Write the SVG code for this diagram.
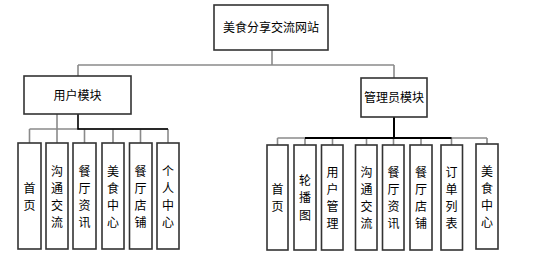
<svg xmlns="http://www.w3.org/2000/svg" width="533" height="258" viewBox="0 0 533 258">
<style>
.box{fill:#fff;stroke:#333;stroke-width:1.6}
.t{font-family:"Noto Sans CJK SC","Liberation Sans",sans-serif;font-size:12px;fill:#000;text-anchor:middle}
.g{stroke:#8a8a8a;stroke-width:1.6;fill:none}
.k{stroke:#000;stroke-width:1.6;fill:none}
</style>
<rect width="533" height="258" fill="#fff"/>
<g id="connectors">
<path class="g" d="M272 50V65M78 65H394M78 65V76M394 65V78"/>
<path class="g" d="M57 114V129M29.5 129H168M29.5 129V143M57 129V143M84.5 129V143M113 129V143M140.5 129V143M168 129V143"/>
<path class="k" d="M78 114V129H168"/>
<path class="g" d="M277.5 138H487M277.5 138V145M305 138V145M332.5 138V145M366.5 138V145M393.5 138V145M421 138V145M451.5 138V145M487 138V144"/>
<path class="k" d="M394 117V138M305 138H451.5" style="stroke-width:2"/>
</g>
<g id="root"><rect class="box" x="214" y="5" width="114" height="45"/><text class="t" x="271" y="32">美食分享交流网站</text></g>
<g id="user"><rect class="box" x="24" y="76" width="107" height="38"/><text class="t" x="77.5" y="99.5">用户模块</text></g>
<g id="admin"><rect class="box" x="361" y="78" width="66" height="39"/><text class="t" x="394" y="102">管理员模块</text></g>

<g id="u1"><rect class="box" x="18" y="143" width="23" height="106"/><text class="t" x="29.5" y="192.5"><tspan x="29.5">首</tspan><tspan x="29.5" dy="17">页</tspan></text></g>
<g id="u2"><rect class="box" x="46" y="143" width="22" height="106"/><text class="t" x="57" y="175.5"><tspan x="57">沟</tspan><tspan x="57" dy="17">通</tspan><tspan x="57" dy="17">交</tspan><tspan x="57" dy="17">流</tspan></text></g>
<g id="u3"><rect class="box" x="73" y="143" width="23" height="106"/><text class="t" x="84.5" y="175.5"><tspan x="84.5">餐</tspan><tspan x="84.5" dy="17">厅</tspan><tspan x="84.5" dy="17">资</tspan><tspan x="84.5" dy="17">讯</tspan></text></g>
<g id="u4"><rect class="box" x="102" y="143" width="22" height="106"/><text class="t" x="113" y="175.5"><tspan x="113">美</tspan><tspan x="113" dy="17">食</tspan><tspan x="113" dy="17">中</tspan><tspan x="113" dy="17">心</tspan></text></g>
<g id="u5"><rect class="box" x="129.5" y="143" width="22.5" height="106"/><text class="t" x="140.5" y="175.5"><tspan x="140.5">餐</tspan><tspan x="140.5" dy="17">厅</tspan><tspan x="140.5" dy="17">店</tspan><tspan x="140.5" dy="17">铺</tspan></text></g>
<g id="u6"><rect class="box" x="157" y="143" width="22" height="106"/><text class="t" x="168" y="175.5"><tspan x="168">个</tspan><tspan x="168" dy="17">人</tspan><tspan x="168" dy="17">中</tspan><tspan x="168" dy="17">心</tspan></text></g>

<g id="a1"><rect class="box" x="267" y="145" width="21" height="105"/><text class="t" x="277.5" y="193.5"><tspan x="277.5">首</tspan><tspan x="277.5" dy="17">页</tspan></text></g>
<g id="a2"><rect class="box" x="294" y="145" width="22" height="105"/><text class="t" x="305" y="184.5"><tspan x="305">轮</tspan><tspan x="305" dy="17.5">播</tspan><tspan x="305" dy="17.5">图</tspan></text></g>
<g id="a3"><rect class="box" x="321.5" y="145" width="21.5" height="105"/><text class="t" x="332.5" y="176.5"><tspan x="332.5">用</tspan><tspan x="332.5" dy="17">户</tspan><tspan x="332.5" dy="17">管</tspan><tspan x="332.5" dy="17">理</tspan></text></g>
<g id="a4"><rect class="box" x="355.5" y="145" width="21.5" height="105"/><text class="t" x="366.5" y="176.5"><tspan x="366.5">沟</tspan><tspan x="366.5" dy="17">通</tspan><tspan x="366.5" dy="17">交</tspan><tspan x="366.5" dy="17">流</tspan></text></g>
<g id="a5"><rect class="box" x="382.5" y="145" width="21.5" height="105"/><text class="t" x="393.5" y="176.5"><tspan x="393.5">餐</tspan><tspan x="393.5" dy="17">厅</tspan><tspan x="393.5" dy="17">资</tspan><tspan x="393.5" dy="17">讯</tspan></text></g>
<g id="a6"><rect class="box" x="410" y="145" width="22" height="105"/><text class="t" x="421" y="176.5"><tspan x="421">餐</tspan><tspan x="421" dy="17">厅</tspan><tspan x="421" dy="17">店</tspan><tspan x="421" dy="17">铺</tspan></text></g>
<g id="a7"><rect class="box" x="441" y="145" width="21.5" height="105"/><text class="t" x="451.5" y="176.5"><tspan x="451.5">订</tspan><tspan x="451.5" dy="17">单</tspan><tspan x="451.5" dy="17">列</tspan><tspan x="451.5" dy="17">表</tspan></text></g>
<g id="a8"><rect class="box" x="476" y="144" width="22" height="105"/><text class="t" x="487" y="175.5"><tspan x="487">美</tspan><tspan x="487" dy="17">食</tspan><tspan x="487" dy="17">中</tspan><tspan x="487" dy="17">心</tspan></text></g>
</svg>
